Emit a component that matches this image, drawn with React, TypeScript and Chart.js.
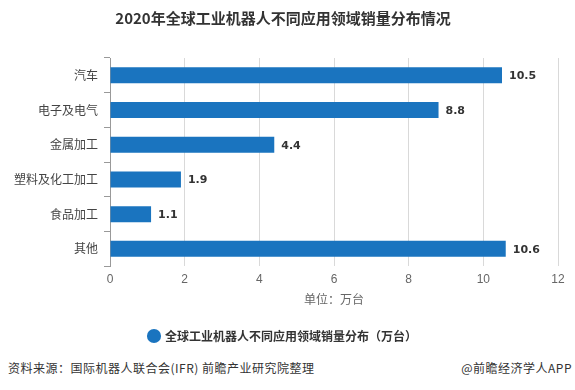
import React, { useEffect, useRef } from "react";
import { Chart, registerables } from "chart.js";

Chart.register(...registerables);

const categories = ["汽车", "电子及电气", "金属加工", "塑料及化工加工", "食品加工", "其他"];
const values = [10.5, 8.8, 4.4, 1.9, 1.1, 10.6];
const xTicks = [0, 2, 4, 6, 8, 10, 12];
const seriesName = "全球工业机器人不同应用领域销量分布（万台）";
const titleText = "2020年全球工业机器人不同应用领域销量分布情况";
const axisTitle = "单位：万台";
const sourceText = "资料来源：国际机器人联合会(IFR) 前瞻产业研究院整理";
const brandText = "@前瞻经济学人APP";

const CJK = '"Noto Sans CJK SC", "Noto Sans", sans-serif';
const BAR = "#1a74bf";

const labelPlugin = {
  id: "valueLabels",
  afterDatasetsDraw(chart: any) {
    const ctx = chart.ctx;
    const meta = chart.getDatasetMeta(0);
    ctx.save();
    ctx.font = 'bold 11px "DejaVu Sans", sans-serif';
    ctx.fillStyle = "#333";
    ctx.textAlign = "left";
    ctx.textBaseline = "middle";
    meta.data.forEach((el: any, i: number) => {
      ctx.fillText(values[i].toFixed(1), el.x + 7, el.y + 1);
    });
    ctx.restore();
  },
};

export default function App() {
  const ref = useRef<HTMLCanvasElement | null>(null);
  useEffect(() => {
    document.body.style.margin = "0";
    const chart = new Chart(ref.current!, {
      type: "bar",
      data: {
        labels: categories,
        datasets: [
          {
            label: seriesName,
            data: values,
            backgroundColor: BAR,
            borderWidth: 0,
            barPercentage: 0.92,
            categoryPercentage: 0.5,
          },
        ],
      },
      options: {
        indexAxis: "y",
        animation: false,
        responsive: false,
        maintainAspectRatio: false,
        layout: { padding: { left: 8, right: 17, top: 0, bottom: 0 } },
        plugins: {
          title: {
            display: true,
            text: titleText,
            color: "#333",
            font: { family: CJK, size: 15, weight: "bold" },
            padding: { top: 9, bottom: 31 },
          },
          legend: {
            position: "bottom",
            labels: {
              usePointStyle: true,
              pointStyle: "circle",
              boxWidth: 10,
              boxHeight: 10,
              color: "#333",
              font: { family: CJK, size: 12, weight: "bold" },
              padding: 10,
            },
          },
          tooltip: { enabled: false },
        },
        scales: {
          x: {
            min: 0,
            max: 12,
            afterBuildTicks: (axis: any) => {
              axis.ticks = xTicks.map((v) => ({ value: v }));
            },
            grid: { color: "#d9d9d9", drawTicks: false },
            border: { display: false },
            ticks: {
              color: "#666",
              font: { family: '"Liberation Sans", Arial, sans-serif', size: 12 },
              padding: 6,
            },
            title: {
              display: true,
              text: axisTitle,
              color: "#666",
              font: { family: CJK, size: 12 },
              padding: { top: 0, bottom: 13 },
            },
          },
          y: {
            grid: { drawOnChartArea: false, drawTicks: true, tickLength: 6, color: "#999" },
            border: { display: true, color: "#999" },
            ticks: {
              color: "#444",
              font: { family: CJK, size: 12 },
              padding: 6,
            },
          },
        },
      },
      plugins: [labelPlugin],
    });
    return () => chart.destroy();
  }, []);

  return (
    <div style={{ position: "absolute", left: 0, top: 0, width: 575, height: 390, background: "#fff" }}>
      <canvas ref={ref} width={575} height={352} style={{ display: "block" }} />
      <div
        style={{
          position: "absolute",
          left: 8,
          top: 359,
          fontFamily: CJK,
          fontSize: 12,
          color: "#333",
          whiteSpace: "nowrap",
          letterSpacing: 0.5,
        }}
      >
        {sourceText}
      </div>
      <div
        style={{
          position: "absolute",
          right: 3,
          top: 359,
          fontFamily: CJK,
          fontSize: 12,
          color: "#333",
          whiteSpace: "nowrap",
          letterSpacing: 0.5,
        }}
      >
        {brandText}
      </div>
    </div>
  );
}
